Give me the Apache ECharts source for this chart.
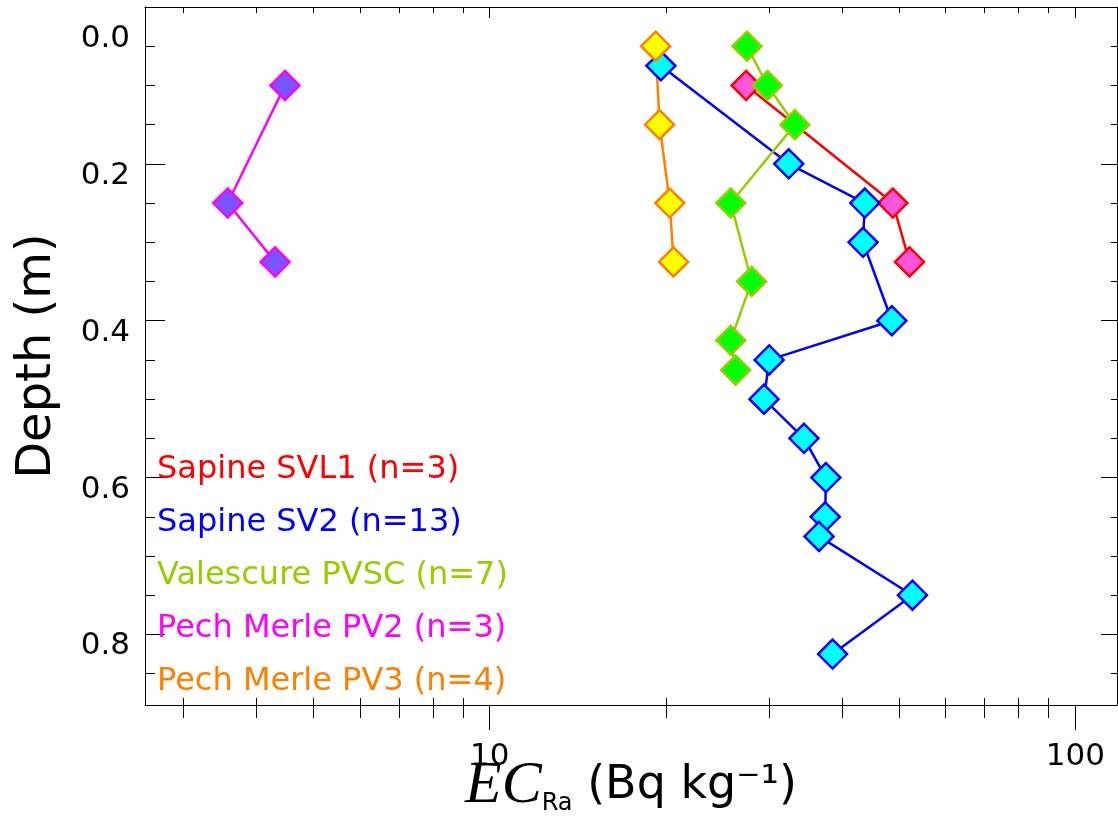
<!DOCTYPE html>
<html>
<head>
<meta charset="utf-8">
<title>EC Ra depth profiles</title>
<script src="https://cdn.jsdelivr.net/npm/echarts@6.0.0/dist/echarts.min.js"></script>
<style>
    html, body { margin: 0; padding: 0; background: #fff; }
    #main { width: 1118px; height: 822px; }
</style>
</head>
<body>
<div id="main"></div>
<script>
// EC_Ra (Bq/kg) against depth (m) for each profile
const svl1Ec = [27.4, 48.8, 52.1];
const svl1Depth = [0.1, 0.25, 0.325];

const sv2Ec = [19.6, 32.4, 43.7, 43.4, 48.6, 30.0, 29.4, 34.4, 37.5, 37.4, 36.5, 52.7, 38.5];
const sv2Depth = [0.075, 0.2, 0.25, 0.3, 0.4, 0.45, 0.5, 0.55, 0.6, 0.65, 0.675, 0.75, 0.825];

const pvscEc = [27.5, 29.8, 33.2, 25.8, 28.0, 25.8, 26.3];
const pvscDepth = [0.05, 0.1, 0.15, 0.25, 0.35, 0.425, 0.463];

const pv2Ec = [4.47, 3.57, 4.30];
const pv2Depth = [0.1, 0.25, 0.325];

const pv3Ec = [19.2, 19.5, 20.3, 20.6];
const pv3Depth = [0.05, 0.15, 0.25, 0.325];

// ticks
const majorEc = [10, 100];
const minorEc = [3, 4, 5, 6, 7, 8, 9, 20, 30, 40, 50, 60, 70, 80, 90];
const majorDepth = [0, 0.2, 0.4, 0.6, 0.8];
const minorDepth = [0.05, 0.1, 0.15, 0.25, 0.3, 0.35, 0.45, 0.5, 0.55, 0.65, 0.7, 0.75, 0.85];

const ecMin = 2.578, ecMax = 117.8, depthMax = 0.89;
const lg = Math.log10;

const profiles = [
    { site: 'Sapine SVL1', ec: svl1Ec, depth: svl1Depth, line: '#ff0000', fill: '#ff55dd' },
    { site: 'Sapine SV2', ec: sv2Ec, depth: sv2Depth, line: '#0000ff', fill: '#00ffff' },
    { site: 'Valescure PVSC', ec: pvscEc, depth: pvscDepth, line: '#99cc00', fill: '#00ff00' },
    { site: 'Pech Merle PV2', ec: pv2Ec, depth: pv2Depth, line: '#ff00ff', fill: '#7755ff' },
    { site: 'Pech Merle PV3', ec: pv3Ec, depth: pv3Depth, line: '#ff8000', fill: '#ffff00' }
];
profiles.forEach(p => { p.name = p.site + ' (n=' + p.ec.length + ')'; });

const sans = 'DejaVu Sans';
const black = { color: '#000', width: 1 };

// extra axes only used to draw tick marks (x ones work in log10 space)
function xTicks(pos, values, len, inside) {
    return {
        type: 'value', position: pos, min: lg(ecMin), max: lg(ecMax),
        axisLine: { show: false, onZero: false },
        axisTick: { customValues: values.map(lg), length: len, inside: inside, lineStyle: black },
        axisLabel: { show: false },
        splitLine: { show: false }
    };
}
function yTicks(pos, values, len) {
    return {
        type: 'value', position: pos, inverse: true, min: 0, max: depthMax,
        axisLine: { show: false, onZero: false },
        axisTick: { customValues: values, length: len, inside: true, lineStyle: black },
        axisLabel: { show: false },
        splitLine: { show: false }
    };
}

const chart = echarts.init(document.getElementById('main'));

const option = {
    backgroundColor: '#fff',
    animation: false,
    grid: { left: 145, right: 1, top: 7, bottom: 117, containLabel: false, outerBoundsMode: 'none' },
    legend: {
        orient: 'vertical', left: 147, top: 449,
        icon: 'none', itemWidth: 0, itemHeight: 0, itemGap: 21,
        selectedMode: false,
        textStyle: { fontFamily: sans, fontSize: 32 },
        data: profiles.map(p => ({ name: p.name, textStyle: { color: p.line } }))
    },
    xAxis: [
        // data axis
        { type: 'log', logBase: 10, min: ecMin, max: ecMax, show: false, axisLine: { onZero: false } },
        {
            type: 'value', position: 'bottom', min: lg(ecMin), max: lg(ecMax),
            axisLine: { show: true, onZero: false, lineStyle: black },
            axisTick: { customValues: majorEc.map(lg), length: 25, inside: false, lineStyle: black },
            axisLabel: {
                customValues: majorEc.map(lg), margin: 36,
                color: '#000', fontFamily: sans, fontSize: 31,
                formatter: v => String(Math.round(Math.pow(10, v)))
            },
            splitLine: { show: false },
            name: '{e|EC}{s|Ra}{u| (Bq kg\u207B\u00B9)}',
            nameLocation: 'middle', nameGap: 51, nameMoveOverlap: false,
            nameTextStyle: {
                color: '#000',
                rich: {
                    e: { fontFamily: 'Liberation Serif', fontStyle: 'italic', fontSize: 60, color: '#000' },
                    s: { fontFamily: sans, fontSize: 24, color: '#000', verticalAlign: 'bottom' },
                    u: { fontFamily: sans, fontSize: 46, color: '#000' }
                }
            }
        },
        xTicks('bottom', minorEc, 13, false),
        xTicks('bottom', minorEc, 7, true),
        Object.assign(xTicks('top', majorEc, 11, true), { axisLine: { show: true, onZero: false, lineStyle: black } }),
        xTicks('top', minorEc, 6, true)
    ],
    yAxis: [
        {
            type: 'value', position: 'left', inverse: true, min: 0, max: depthMax,
            axisLine: { show: true, onZero: false, lineStyle: black },
            axisTick: { customValues: majorDepth, length: 20, inside: true, lineStyle: black },
            axisLabel: {
                customValues: majorDepth, margin: 15,
                color: '#000', fontFamily: sans, fontSize: 31,
                formatter: v => (v === 0 ? '{z|0.0}' : '{n|' + v.toFixed(1) + '}'),
                rich: {
                    z: { fontFamily: sans, fontSize: 31, color: '#000', padding: [64, 0, 0, 0] },
                    n: { fontFamily: sans, fontSize: 31, color: '#000', padding: [24, 0, 0, 0] }
                }
            },
            splitLine: { show: false },
            name: 'Depth (m)', nameLocation: 'middle', nameGap: 83, nameMoveOverlap: false,
            nameTextStyle: { color: '#000', fontFamily: sans, fontSize: 48 }
        },
        yTicks('left', minorDepth, 10),
        Object.assign(yTicks('right', majorDepth, 16), { axisLine: { show: true, onZero: false, lineStyle: black } }),
        yTicks('right', minorDepth, 6)
    ],
    series: profiles.map(p => ({
        type: 'line',
        name: p.name,
        xAxisIndex: 0,
        yAxisIndex: 0,
        data: p.ec.map((v, i) => [v, p.depth[i]]),
        symbol: 'diamond',
        symbolSize: 29,
        showAllSymbol: true,
        lineStyle: { color: p.line, width: 2.5 },
        itemStyle: { color: p.fill, borderColor: p.line, borderWidth: 2.5 },
        emphasis: { disabled: true }
    }))
};

chart.setOption(option);
window.addEventListener('resize', function () {
    chart.resize();
});
</script>
</body>
</html>
